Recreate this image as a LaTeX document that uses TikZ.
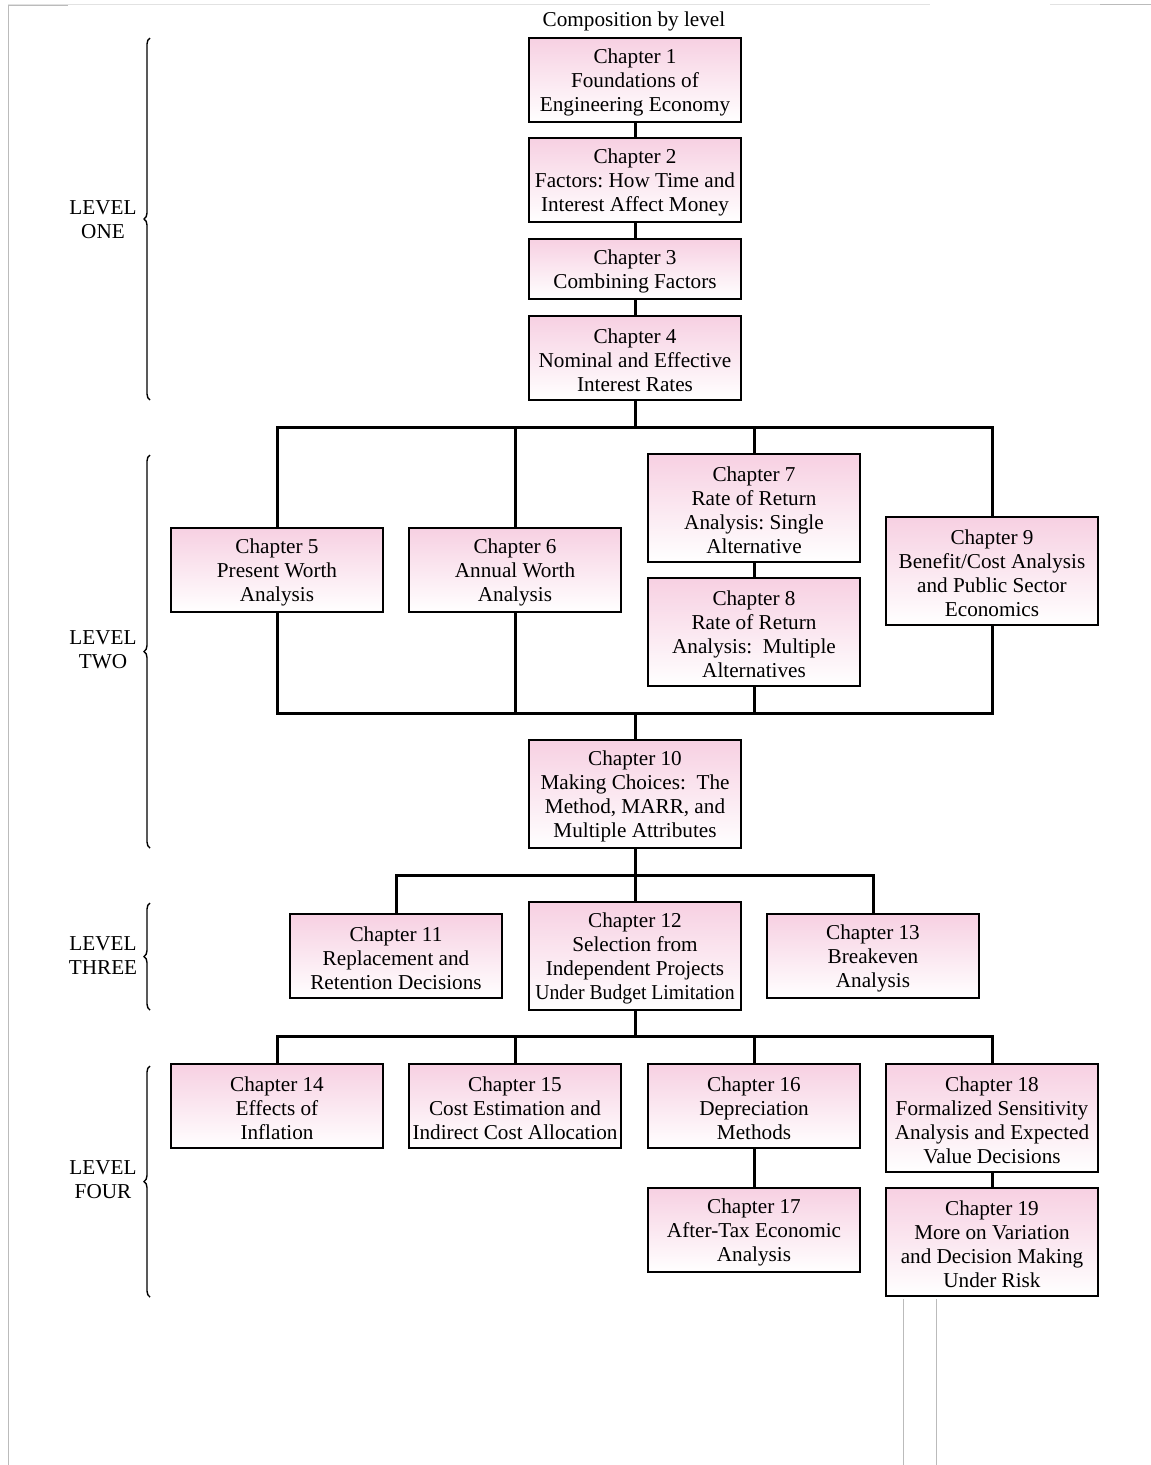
\documentclass[tikz,border=0pt]{standalone}
\usepackage{fontspec}
\usepackage{graphicx}
\setmainfont{Liberation Serif}
\usetikzlibrary{decorations.pathreplacing}
\definecolor{pinktop}{HTML}{F7D0E2}
\definecolor{framegray}{HTML}{BBBBBB}
\definecolor{framelight}{HTML}{E2E2E2}
\frenchspacing
\newcommand{\chtop}{\rule{0pt}{20pt}}
\begin{document}
\begin{tikzpicture}[x=1pt,y=-1pt,
  chap/.style={draw=black, line width=1.6pt, top color=pinktop, bottom color=white,
    minimum width=212pt, align=center, inner sep=0pt,
    font=\fontsize{21.2}{24}\selectfont},
  h84/.style={minimum height=84pt},
  h60/.style={minimum height=60pt},
  h108/.style={minimum height=108pt},
  link/.style={line width=3pt, line join=miter, line cap=rect},
  lvbrace/.style={decorate, decoration={brace, amplitude=6pt}, line width=1.4pt},
  lvlabel/.style={align=center, font=\fontsize{21.2}{24}\selectfont},
  frame/.style={line width=1pt}
]
\useasboundingbox (0,0) rectangle (1151,1465);
% page frame artefacts
\draw[frame, framelight] (8,4.5) -- (930,4.5);
\draw[frame, framelight] (1050,4.5) -- (1151,4.5);
\draw[frame, framegray] (8,5) -- (68,5);
\draw[frame, framegray] (1100,4.5) -- (1151,4.5);
\draw[frame, framegray] (8.5,5) -- (8.5,1465);
\draw[frame, framegray] (903.5,1299) -- (903.5,1465);
\draw[frame, framegray] (936.5,1299) -- (936.5,1465);

\node[lvlabel] (title) at (634,21) {Composition by level};

% level one
\node[chap,h84] (c1) at (635,80) {\chtop Chapter 1\\Foundations of\\Engineering Economy};
\node[chap,h84] (c2) at (635,180) {\chtop Chapter 2\\Factors: How Time and\\Interest Affect Money};
\node[chap,h60] (c3) at (635,269) {\chtop Chapter 3\\Combining Factors};
\node[chap,h84] (c4) at (635,358) {\chtop Chapter 4\\Nominal and Effective\\Interest Rates};

% level two
\node[chap,h84] (c5) at (277,570) {\chtop Chapter 5\\Present Worth\\Analysis};
\node[chap,h84] (c6) at (515,570) {\chtop Chapter 6\\Annual Worth\\Analysis};
\node[chap,h108] (c7) at (754,508) {\chtop Chapter 7\\Rate of Return\\Analysis: Single\\Alternative};
\node[chap,h108] (c8) at (754,632) {\chtop Chapter 8\\Rate of Return\\Analysis:\ \ Multiple\\Alternatives};
\node[chap,h108] (c9) at (992,571) {\chtop Chapter 9\\Benefit/Cost Analysis\\and Public Sector\\Economics};
\node[chap,h108] (c10) at (635,794) {\chtop Chapter 10\\Making Choices:\ \ The\\Method, MARR, and\\Multiple Attributes};

% level three
\node[chap,h84] (c11) at (396,956) {\chtop Chapter 11\\Replacement and\\Retention Decisions};
\node[chap,h108] (c12) at (635,956) {\chtop Chapter 12\\Selection from\\Independent Projects\\\scalebox{0.93}[1]{Under Budget Limitation}};
\node[chap,h84] (c13) at (873,956) {\chtop Chapter 13\\Breakeven\\Analysis};

% level four
\node[chap,h84] (c14) at (277,1106) {\chtop Chapter 14\\Effects of\\Inflation};
\node[chap,h84] (c15) at (515,1106) {\chtop Chapter 15\\Cost Estimation and\\Indirect Cost Allocation};
\node[chap,h84] (c16) at (754,1106) {\chtop Chapter 16\\Depreciation\\Methods};
\node[chap,h108] (c18) at (992,1118) {\chtop Chapter 18\\Formalized Sensitivity\\Analysis and Expected\\Value Decisions};
\node[chap,h84] (c17) at (754,1230) {\chtop Chapter 17\\After-Tax Economic\\Analysis};
\node[chap,h108] (c19) at (992,1242) {\chtop Chapter 19\\More on Variation\\and Decision Making\\Under Risk};

% connector junctions
\coordinate (j1) at (635,427);
\coordinate (j2) at (635,713);
\coordinate (j3) at (635,875);
\coordinate (j4) at (635,1036);

% connectors level one
\draw[link] (c1.south) -- (c2.north);
\draw[link] (c2.south) -- (c3.north);
\draw[link] (c3.south) -- (c4.north);
\draw[link] (c4.south) -- (j1);
% fan out to level two
\draw[link] (c5.north) |- (j1) -| (c9.north);
\draw[link] (c6.north) -- (c6.north |- j1);
\draw[link] (c7.north) -- (c7.north |- j1);
\draw[link] (c7.south) -- (c8.north);
% gather
\draw[link] (c5.south) |- (j2) -| (c9.south);
\draw[link] (c6.south) -- (c6.south |- j2);
\draw[link] (c8.south) -- (c8.south |- j2);
\draw[link] (j2) -- (c10.north);
% level three
\draw[link] (c10.south) -- (c12.north);
\draw[link] (c11.north) |- (j3) -| (c13.north);
% level four
\draw[link] (c12.south) -- (j4);
\draw[link] (c14.north) |- (j4) -| (c18.north);
\draw[link] (c15.north) -- (c15.north |- j4);
\draw[link] (c16.north) -- (c16.north |- j4);
\draw[link] (c16.south) -- (c17.north);
\draw[link] (c18.south) -- (c19.north);

% braces and level labels
\coordinate (b1t) at (150,38);  \coordinate (b1b) at (150,400);
\coordinate (b2t) at (150,455); \coordinate (b2b) at (150,848);
\coordinate (b3t) at (150,903); \coordinate (b3b) at (150,1010);
\coordinate (b4t) at (150,1066);\coordinate (b4b) at (150,1297);
\draw[lvbrace] (b1b) -- (b1t);
\draw[lvbrace] (b2b) -- (b2t);
\draw[lvbrace] (b3b) -- (b3t);
\draw[lvbrace] (b4b) -- (b4t);
\node[lvlabel] (l1) at (103,220) {LEVEL\\ONE};
\node[lvlabel] (l2) at (103,650) {LEVEL\\TWO};
\node[lvlabel] (l3) at (103,956) {LEVEL\\THREE};
\node[lvlabel] (l4) at (103,1180) {LEVEL\\FOUR};
\end{tikzpicture}
\end{document}
